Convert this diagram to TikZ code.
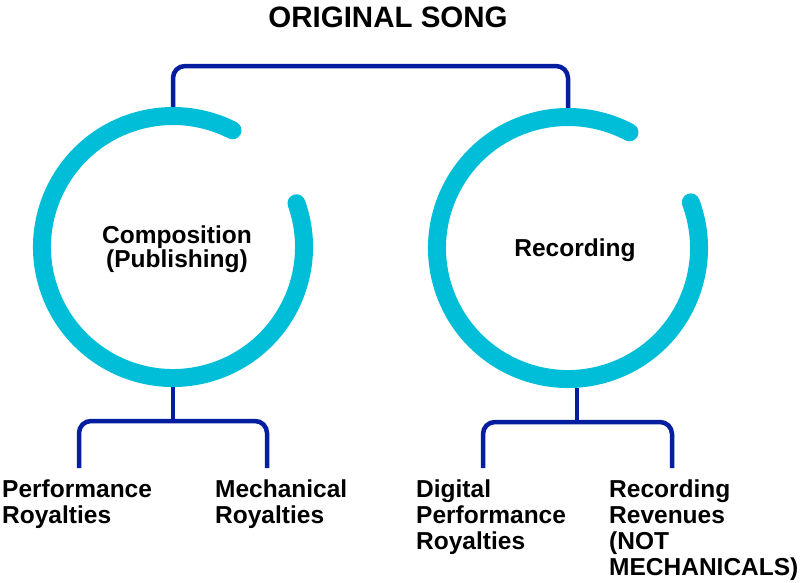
\documentclass[tikz,border=0pt]{standalone}
\usepackage{fontspec}
\setmainfont{Liberation Sans}
\definecolor{ringc}{RGB}{0,190,215}
\definecolor{linec}{RGB}{5,30,160}
\begin{document}
\begin{tikzpicture}[x=1pt,y=-1pt,
  ring/.style={line width=18pt, draw=ringc, line cap=round},
  conn/.style={line width=4.5pt, draw=linec, rounded corners=12pt},
  lbl/.style={inner sep=0pt, font=\fontsize{24.5}{26}\selectfont\bfseries, align=left, anchor=base west},
  ctr/.style={inner sep=0pt, font=\fontsize{24.5}{24.5}\selectfont\bfseries, align=center, anchor=base},
  hub/.style={circle, minimum size=280pt, inner sep=0pt, draw=none}]
\useasboundingbox (0,0) rectangle (800,582);

\node[anchor=base, inner sep=0pt, font=\fontsize{29.5}{30}\selectfont\bfseries] (title) at (388,27) {ORIGINAL SONG};

\node[hub] (comp) at (173,247) {};
\node[hub] (rec) at (568,248) {};
\node[ctr] (comptext) at (177,267.5) {Composition\\(Publishing)};
\node[ctr] (rectext) at (575,256) {Recording};

\node[lbl] (perf) at (2,523) {Performance\\Royalties};
\node[lbl] (mech) at (215,523) {Mechanical\\Royalties};
\node[lbl] (dig) at (416,549) {Digital\\Performance\\Royalties};
\node[lbl] (rrev) at (609,575) {Recording\\Revenues\\(NOT\\MECHANICALS)};

\coordinate (topbar) at (370,66);
\coordinate (lj) at (173,421);
\coordinate (perfTop) at (79,468);
\coordinate (mechTop) at (267,468);
\coordinate (rj) at (577,422);
\coordinate (digTop) at (483,468);
\coordinate (rrevTop) at (672,468);

\draw[conn] (comp.north) |- (topbar) -| (rec.north);
\draw[conn] (comp.south) -- (lj);
\draw[conn] (perfTop) |- (lj) -| (mechTop);
\draw[conn] (rec.south -| rj) -- (rj);
\draw[conn] (digTop) |- (rj) -| (rrevTop);

\draw[ring] (comp.center) ++(-19.5:131) arc[start angle=-19.5, end angle=297, radius=131];
\draw[ring] (rec.center) ++(-20.4:131) arc[start angle=-20.4, end angle=298, radius=131];
\end{tikzpicture}
\end{document}
